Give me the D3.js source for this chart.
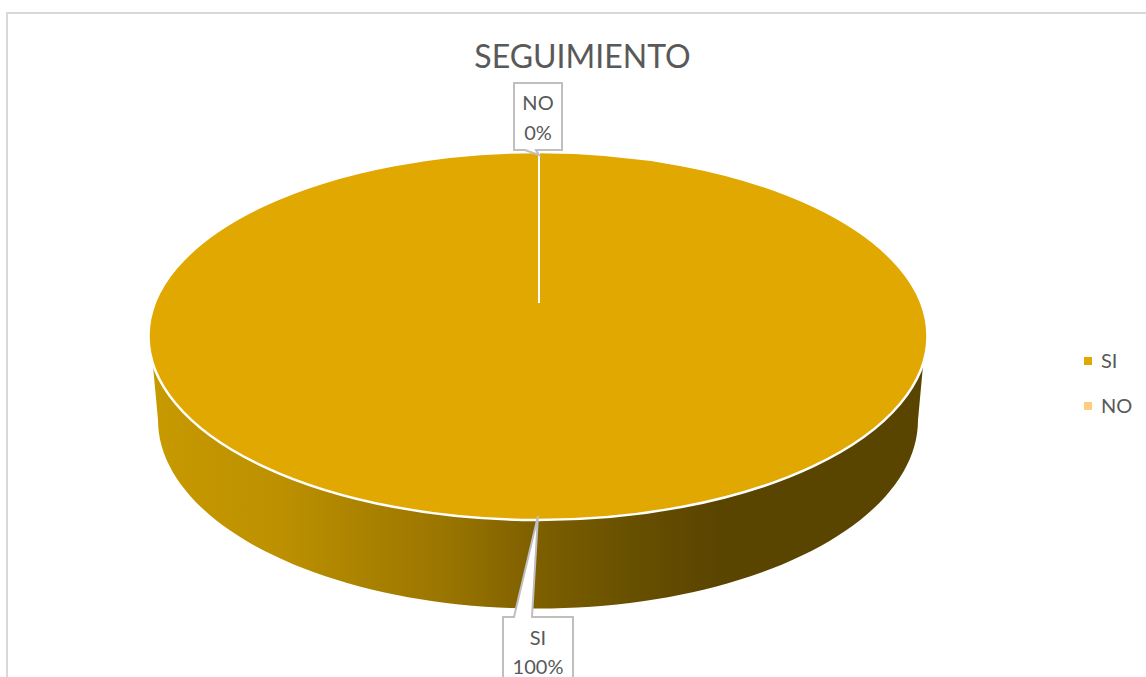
<!DOCTYPE html>
<html><head><meta charset="utf-8">
<script src="https://cdn.jsdelivr.net/npm/d3@7"></script>
<style>html,body{margin:0;padding:0;background:#fff;overflow:hidden}svg{display:block}text{font-family:Lato,"Open Sans",sans-serif;fill:#595959}</style>
</head><body><div id="c"></div>
<script>
const chartTitle = "SEGUIMIENTO";
const categories = ["SI", "NO"];
const values = [100, 0];
const colors = ["#E0A800", "#FFCC80"];

const W = 1146, H = 677;
const svg = d3.select("#c").append("svg").attr("width", W).attr("height", H);

// chart frame
svg.append("path").attr("d", `M7 ${H} V13 H${W}`).attr("fill", "none").attr("stroke", "#d9d9d9").attr("stroke-width", 2);

svg.append("text").attr("x", 582.5).attr("y", 68).attr("text-anchor", "middle").attr("font-size", 32).text(chartTitle);

const cx = 538, topE = {cy: 336, rx: 389.5, ry: 184}, botE = {cy: 420, rx: 380, ry: 188.5};
const hub = 303;
const defs = svg.append("defs");
const grad = defs.append("linearGradient").attr("id", "wall").attr("gradientUnits", "userSpaceOnUse")
  .attr("x1", cx - topE.rx).attr("x2", cx + topE.rx).attr("y1", 0).attr("y2", 0);
[[0, "#C89A00"], [0.17, "#BC9000"], [0.38, "#9A7500"], [0.5, "#7D5F00"], [0.62, "#685000"], [0.74, "#594400"], [1, "#594400"]]
  .forEach(([o, c]) => grad.append("stop").attr("offset", o).attr("stop-color", c));

const pie = d3.pie().sort(null).value(d => d)(values);
const onEllipse = (e, a) => [cx + e.rx * Math.sin(a), e.cy - e.ry * Math.cos(a)];

// wall: front half of the disc
const front = d3.range(0, 181, 2).map(i => onEllipse(botE, Math.PI * (0.5 + i / 180)));
const leftTop = onEllipse(topE, Math.PI * 1.453), rightTop = onEllipse(topE, Math.PI * 0.547);
svg.append("path")
  .attr("d", d3.line().curve(d3.curveLinear)([rightTop, ...front, leftTop]) + "Z")
  .attr("fill", "url(#wall)");

// top face
const arc = d3.arc().innerRadius(0).outerRadius(topE.rx);
const face = svg.append("g").attr("transform", `translate(${cx},${topE.cy}) scale(1,${topE.ry / topE.rx})`);
face.selectAll("path").data(pie).join("path")
  .attr("d", arc).attr("fill", (d, i) => colors[i]);
svg.append("ellipse").attr("cx", cx).attr("cy", topE.cy).attr("rx", topE.rx).attr("ry", topE.ry)
  .attr("fill", "none").attr("stroke", "#fff").attr("stroke-width", 2.5);

// slice boundary (0% slice)
const [bx, by] = onEllipse(topE, pie[1].startAngle);
svg.append("line").attr("x1", cx + 1).attr("x2", cx + 1).attr("y1", hub).attr("y2", by)
  .attr("stroke", "#fff").attr("stroke-width", 2);

// callouts
const callouts = [
  {i: 1, d: "M514 83 H562 V150 H536 L539 155 L525 150 H514 Z", x: 538, y: [110, 140]},
  {i: 0, d: "M503 617 H514 L538 516 L532 617 H573 V690 H503 Z", x: 538, y: [645, 674]}
];
callouts.forEach(c => {
  svg.append("path").attr("d", c.d).attr("fill", "#fff").attr("stroke", "#bfbfbf").attr("stroke-width", 2);
  const total = d3.sum(values);
  svg.append("text").attr("x", c.x).attr("y", c.y[0]).attr("text-anchor", "middle").attr("font-size", 20).text(categories[c.i]);
  svg.append("text").attr("x", c.x).attr("y", c.y[1]).attr("text-anchor", "middle").attr("font-size", 20).text(d3.format(".0%")(values[c.i] / total));
});

// legend
const ly = d3.scalePoint().domain(categories).range([361, 406]);
const lg = svg.append("g").selectAll("g").data(categories).join("g").attr("transform", d => `translate(0,${ly(d)})`);
lg.append("rect").attr("x", 1084).attr("y", -4).attr("width", 8).attr("height", 8).attr("fill", (d, i) => colors[i]);
lg.append("text").attr("x", 1101).attr("y", 7).attr("font-size", 20).text(d => d);
</script></body></html>
